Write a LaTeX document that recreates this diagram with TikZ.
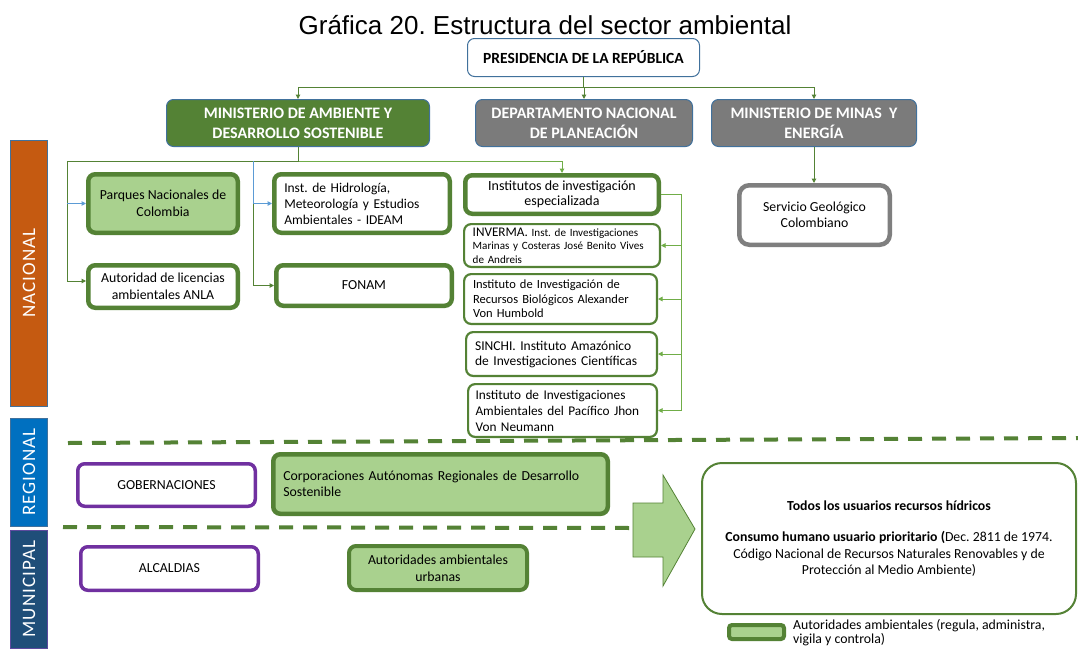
\documentclass[tikz,border=0pt]{standalone}
\usepackage{fontspec}
\setmainfont{Carlito}
\newfontfamily\titlefont{Liberation Sans}
\usetikzlibrary{arrows.meta}
\definecolor{gD}{HTML}{548235}
\definecolor{gL}{HTML}{A9D18E}
\definecolor{gM}{HTML}{70AD47}
\definecolor{bB}{HTML}{41719C}
\definecolor{bL}{HTML}{5B9BD5}
\definecolor{grF}{HTML}{7B7B7B}
\definecolor{grB}{HTML}{7F7F7F}
\definecolor{pu}{HTML}{7030A0}
\definecolor{orB}{HTML}{C55A11}
\definecolor{blB}{HTML}{0070C0}
\definecolor{nvB}{HTML}{1F4E79}
\frenchspacing
\begin{document}
\begin{tikzpicture}[x=1pt,y=-1pt,
  fs/.style={font=\fontsize{13.8}{16.5}\selectfont},
  bx/.style={rounded corners=7pt, inner sep=0pt, align=center, fs},
  gthick/.style={bx, draw=gD, line width=4.5pt, fill=white},
  gthin/.style={bx, draw=gD, line width=2.2pt, fill=white, font=\fontsize{12.5}{14.5}\selectfont},
  purp/.style={bx, draw=pu, line width=3.5pt, fill=white},
  hdr/.style={bx, draw=bB, line width=1pt, text=white, font={\fontsize{16}{20}\selectfont\bfseries}},
  bar/.style={draw=bB, line width=0.8pt, rotate=90, text=white, inner sep=0pt,
     font={\fontsize{19}{20}\selectfont\addfontfeatures{LetterSpace=6}}},
  tip/.tip={Triangle[length=4.5pt,width=4.5pt]},
  cg/.style={draw=gD, line width=1pt},
  cM/.style={draw=gM, line width=1pt},
  cB/.style={draw=bL, line width=1pt},
  dl/.style={draw=gD, line width=4pt, dash pattern=on 14pt off 10pt}
]
\useasboundingbox (0,0) rectangle (1078,648);
\fill[white] (0,0) rectangle (1078,648);

% title
\node[font={\titlefont\fontsize{26}{30}\selectfont}, inner sep=0pt, anchor=base] (title) at (545,34) {Gráfica 20. Estructura del sector ambiental};

% side bars
\node[bar, fill=orB, minimum width=266, minimum height=37] (nac) at (29,273) {NACIONAL};
\node[bar, fill=blB, minimum width=108, minimum height=37] (reg) at (29,472) {REGIONAL};
\node[bar, fill=nvB, draw=pu!60!bB, minimum width=118, minimum height=37] (mun) at (29,589) {MUNICIPAL};

% top level
\node[bx, draw=bB, line width=1pt, fill=white, minimum width=232, minimum height=38,
  font={\fontsize{15.5}{18}\selectfont\bfseries}] (pres) at (583.5,57.5) {PRESIDENCIA DE LA REPÚBLICA};
\node[hdr, fill=gD, minimum width=263, minimum height=47] (minamb) at (298,123) {MINISTERIO DE AMBIENTE Y\\DESARROLLO SOSTENIBLE};
\node[hdr, fill=grF, minimum width=217, minimum height=47] (dnp) at (584,123) {DEPARTAMENTO NACIONAL\\DE PLANEACIÓN};
\node[hdr, fill=grF, minimum width=205, minimum height=47] (minminas) at (814,123) {MINISTERIO DE MINAS \ Y\\ENERGÍA};

\node[bx, draw=grB, line width=4.5pt, fill=white, rounded corners=10pt, minimum width=150.5, minimum height=59.5] (sgc) at (814.5,215) {Servicio Geológico\\Colombiano};

% nacional boxes
\node[gthick, fill=gL, minimum width=149.5, minimum height=58.5] (parques) at (163,203.5) {Parques Nacionales de\\Colombia};
\node[gthick, minimum width=149.5, minimum height=42.5] (anla) at (163,286.5) {Autoridad de licencias\\ambientales ANLA};
\node[gthick, minimum width=175.5, minimum height=58.5, text width=155.5, align=left, font=\fontsize{13.5}{16}\selectfont] (ideam) at (362,203.5) {Inst. de Hidrología,\\Meteorología y Estudios\\Ambientales - IDEAM};
\node[gthick, minimum width=175.5, minimum height=40.5] (fonam) at (364,285.5) {FONAM};

\node[gthick, minimum width=193.5, minimum height=38.5, font=\fontsize{14}{15.5}\selectfont] (inst) at (562,194.5) {Institutos de investigación\\especializada};
\node[gthin, minimum width=195.8, minimum height=42.8, text width=178.6, align=left, font=\fontsize{11.1}{13.5}\selectfont] (inver) at (562,245.5) {{\fontsize{13.2}{13.5}\selectfont INVERMA.} Inst. de Investigaciones\\Marinas y Costeras José Benito Vives\\de Andreis};
\node[gthin, minimum width=192.8, minimum height=49.8, text width=175, align=left] (humb) at (560.5,299) {Instituto de Investigación de\\Recursos Biológicos Alexander\\Von Humbold};
\node[gthin, minimum width=190.8, minimum height=43.8, text width=172.8, align=left, font=\fontsize{13.5}{15}\selectfont] (sinchi) at (561.5,354) {SINCHI. Instituto Amazónico\\de Investigaciones Científicas};
\node[gthin, minimum width=188.8, minimum height=52.8, text width=174, align=left, font=\fontsize{13.3}{16}\selectfont] (pac) at (562.5,410.5) {Instituto de Investigaciones\\Ambientales del Pacífico Jhon\\Von Neumann};

% regional / municipal
\node[purp, minimum width=177.5, minimum height=42.5] (gob) at (166.5,485) {GOBERNACIONES};
\node[purp, minimum width=177.5, minimum height=43.5] (alc) at (169.5,568.5) {ALCALDIAS};
\node[gthick, fill=gL, minimum width=334.5, minimum height=59.5, text width=314.5, align=left] (car) at (440.5,484) {Corporaciones Autónomas Regionales de Desarrollo\\Sostenible};
\node[bx, draw=gD, line width=4pt, fill=gL, minimum width=178, minimum height=44] (aau) at (438,568) {Autoridades ambientales\\urbanas};

% dashed separators
\coordinate (d1a) at (68,443);
\coordinate (d1b) at (1078,438);
\draw[dl] (d1a) -- (d1b);

% big arrow
\filldraw[fill=gL, draw=gD, line width=0.8pt] (633,503) -- (663,503) -- (663,475) -- (695,529) -- (663,586) -- (663,557) -- (633,557) -- cycle;
\coordinate (arrL) at (633,528);
\coordinate (d2a) at (63,527);
\draw[dl] (d2a) -- (arrL);

% users box
\node[draw=gD, line width=2pt, rounded corners=20pt, minimum width=374, minimum height=151, align=center, inner sep=0pt,
  font=\fontsize{13.8}{16.5}\selectfont] (users) at (889,538.5)
  {{\bfseries Todos los usuarios recursos hídricos}\\[15pt]
   {\bfseries Consumo humano usuario prioritario (}Dec. 2811 de 1974.\\
   Código Nacional de Recursos Naturales Renovables y de\\
   Protección al Medio Ambiente)};

% legend
\node[fill=gL, draw=gD, line width=4pt, rounded corners=3pt, minimum width=55, minimum height=14, inner sep=0pt] (leg) at (756.5,632) {};
\node[anchor=west, align=left, inner sep=0pt, font=\fontsize{13.8}{14}\selectfont] (legt) at (793,633) {Autoridades ambientales (regula, administra,\\vigila y controla)};

% connectors: presidencia
\coordinate (j1) at (583.5,87);
\draw[cg] (pres.south) -- (j1);
\draw[cg,-tip] (j1) -| (minamb.north);
\draw[cg,-tip] (dnp.north |- j1) -- (dnp.north);
\draw[cg,-tip] (j1) -| (minminas.north);
\draw[cg,-tip] (minminas.south) -- (minminas.south |- sgc.north);

% connectors: ministerio de ambiente
\coordinate (j2) at (298,161);
\coordinate (l1) at (67,161);
\coordinate (m1) at (253,161);
\draw[cM,-tip] (j2) -| (inst.north);
\draw[cg] (minamb.south) -- (j2) -- (l1);
\draw[cg,-tip] (l1) |- ([yshift=5.5pt]anla.west);
\draw[cB,-tip] (l1 |- parques.west) -- (parques.west);
\draw[cB] (m1) -- (m1 |- ideam.west);
\draw[cB,-tip] (m1 |- ideam.west) -- (ideam.west);
\draw[cg,-tip] (m1 |- ideam.west) |- (fonam.west);

% connectors: institutos
\coordinate (rx) at (681,194.5);
\draw[cM] (inst.east) -- (rx) -- (rx |- pac.east);
\draw[cM,-tip] (rx |- inver.east) -- (inver.east);
\draw[cM,-tip] (rx |- humb.east) -- (humb.east);
\draw[cM,-tip] (rx |- sinchi.east) -- (sinchi.east);
\draw[cM,-tip] (rx |- pac.east) -- (pac.east);
\end{tikzpicture}
\end{document}
